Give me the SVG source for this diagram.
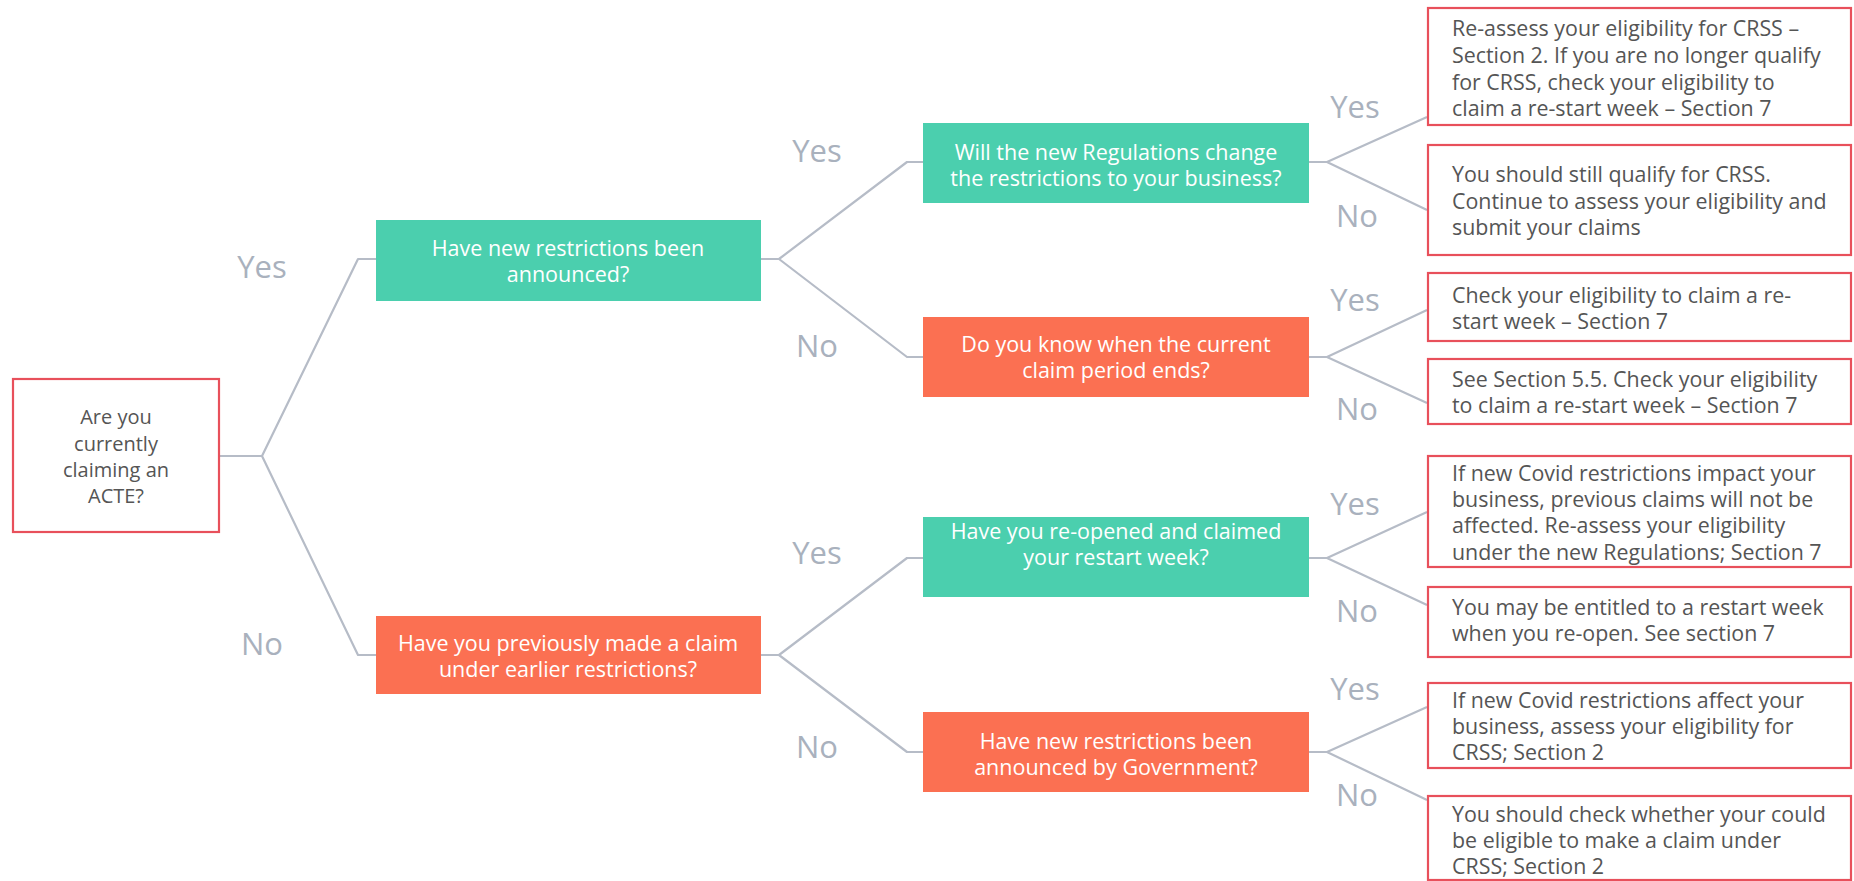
<svg xmlns="http://www.w3.org/2000/svg" width="1854" height="881" viewBox="0 0 1854 881">
<style>
.bg{fill:#ffffff}
.con{fill:none;stroke:#B6BCC7;stroke-width:2.2;stroke-linejoin:round}
.teal{fill:#4BCFAE}
.orange{fill:#FB7052}
.leaf{fill:#ffffff;stroke:#E8505B;stroke-width:2.2}
.wt{font-family:"Open Sans","DejaVu Sans",sans-serif;font-size:21.5px;fill:#ffffff;text-anchor:middle}
.gt{font-family:"Open Sans","DejaVu Sans",sans-serif;font-size:21.4px;fill:#555555}
.ct{font-family:"Open Sans","DejaVu Sans",sans-serif;font-size:20px;fill:#555555;text-anchor:middle}
.lbl{font-family:"Open Sans","DejaVu Sans",sans-serif;font-size:31px;fill:#A9B1BD;text-anchor:middle}
</style>
<rect class="bg" x="0" y="0" width="1854" height="881"/>
<g id="connectors">
<path class="con" d="M219,456 H262 M262,456 L358,259 H376 M262,456 L358,655 H376"/>
<path class="con" d="M761,259 H779 L907,162 H923 M779,259 L907,357 H923"/>
<path class="con" d="M761,655 H779 L907,558 H923 M779,655 L907,752 H923"/>
<path class="con" d="M1309,162 H1327 L1427,117 M1327,162 L1427,210"/>
<path class="con" d="M1309,357 H1327 L1427,310 M1327,357 L1427,403"/>
<path class="con" d="M1309,558 H1327 L1427,512 M1327,558 L1427,605"/>
<path class="con" d="M1309,752 H1327 L1427,707 M1327,752 L1427,800"/>
</g>
<g id="labels">
<text class="lbl" x="262" y="278">Yes</text>
<text class="lbl" x="262" y="655">No</text>
<text class="lbl" x="817" y="162">Yes</text>
<text class="lbl" x="817" y="357">No</text>
<text class="lbl" x="817" y="564">Yes</text>
<text class="lbl" x="817" y="758">No</text>
<text class="lbl" x="1355" y="118">Yes</text>
<text class="lbl" x="1357" y="227">No</text>
<text class="lbl" x="1355" y="311">Yes</text>
<text class="lbl" x="1357" y="420">No</text>
<text class="lbl" x="1355" y="515">Yes</text>
<text class="lbl" x="1357" y="622">No</text>
<text class="lbl" x="1355" y="700">Yes</text>
<text class="lbl" x="1357" y="806">No</text>
</g>
<g id="root">
<rect class="leaf" x="13" y="379" width="206" height="153"/>
<text class="ct" x="116" y="424">Are you</text>
<text class="ct" x="116" y="451">currently</text>
<text class="ct" x="116" y="477">claiming an</text>
<text class="ct" x="116" y="503">ACTE?</text>
</g>
<g id="q-new-restrictions">
<rect class="teal" x="376" y="220" width="385" height="81"/>
<text class="wt" x="568" y="255.5">Have new restrictions been</text>
<text class="wt" x="568" y="281.5">announced?</text>
</g>
<g id="q-previous-claim">
<rect class="orange" x="376" y="616" width="385" height="78"/>
<text class="wt" x="568" y="650.5">Have you previously made a claim</text>
<text class="wt" x="568" y="676.5">under earlier restrictions?</text>
</g>
<g id="q-regulations">
<rect class="teal" x="923" y="123" width="386" height="80"/>
<text class="wt" x="1116" y="159.5">Will the new Regulations change</text>
<text class="wt" x="1116" y="185.5">the restrictions to your business?</text>
</g>
<g id="q-claim-period">
<rect class="orange" x="923" y="317" width="386" height="80"/>
<text class="wt" x="1116" y="352">Do you know when the current</text>
<text class="wt" x="1116" y="378">claim period ends?</text>
</g>
<g id="q-reopened">
<rect class="teal" x="923" y="517" width="386" height="80"/>
<text class="wt" x="1116" y="538.5">Have you re-opened and claimed</text>
<text class="wt" x="1116" y="564.5">your restart week?</text>
</g>
<g id="q-government">
<rect class="orange" x="923" y="712" width="386" height="80"/>
<text class="wt" x="1116" y="748.5">Have new restrictions been</text>
<text class="wt" x="1116" y="774.5">announced by Government?</text>
</g>
<g id="leaf-1">
<rect class="leaf" x="1428" y="8" width="423" height="117"/>
<text class="gt" x="1452" y="35.5">Re-assess your eligibility for CRSS –</text>
<text class="gt" x="1452" y="62.5">Section 2. If you are no longer qualify</text>
<text class="gt" x="1452" y="89.5">for CRSS, check your eligibility to</text>
<text class="gt" x="1452" y="115.5">claim a re-start week – Section 7</text>
</g>
<g id="leaf-2">
<rect class="leaf" x="1428" y="145" width="423" height="110"/>
<text class="gt" x="1452" y="181.5">You should still qualify for CRSS.</text>
<text class="gt" x="1452" y="208.5">Continue to assess your eligibility and</text>
<text class="gt" x="1452" y="234.5">submit your claims</text>
</g>
<g id="leaf-3">
<rect class="leaf" x="1428" y="273" width="423" height="68"/>
<text class="gt" x="1452" y="302.5">Check your eligibility to claim a re-</text>
<text class="gt" x="1452" y="328.5">start week – Section 7</text>
</g>
<g id="leaf-4">
<rect class="leaf" x="1428" y="359" width="423" height="65"/>
<text class="gt" x="1452" y="386.5">See Section 5.5. Check your eligibility</text>
<text class="gt" x="1452" y="412.5">to claim a re-start week – Section 7</text>
</g>
<g id="leaf-5">
<rect class="leaf" x="1428" y="456" width="423" height="111"/>
<text class="gt" x="1452" y="480.5">If new Covid restrictions impact your</text>
<text class="gt" x="1452" y="506.5">business, previous claims will not be</text>
<text class="gt" x="1452" y="532.5">affected. Re-assess your eligibility</text>
<text class="gt" x="1452" y="559.5">under the new Regulations; Section 7</text>
</g>
<g id="leaf-6">
<rect class="leaf" x="1428" y="587" width="423" height="70"/>
<text class="gt" x="1452" y="615">You may be entitled to a restart week</text>
<text class="gt" x="1452" y="641">when you re-open. See section 7</text>
</g>
<g id="leaf-7">
<rect class="leaf" x="1428" y="683" width="423" height="85"/>
<text class="gt" x="1452" y="707.5">If new Covid restrictions affect your</text>
<text class="gt" x="1452" y="734">business, assess your eligibility for</text>
<text class="gt" x="1452" y="760">CRSS; Section 2</text>
</g>
<g id="leaf-8">
<rect class="leaf" x="1428" y="796" width="423" height="84"/>
<text class="gt" x="1452" y="821.5">You should check whether your could</text>
<text class="gt" x="1452" y="847.5">be eligible to make a claim under</text>
<text class="gt" x="1452" y="873.5">CRSS; Section 2</text>
</g>
</svg>
